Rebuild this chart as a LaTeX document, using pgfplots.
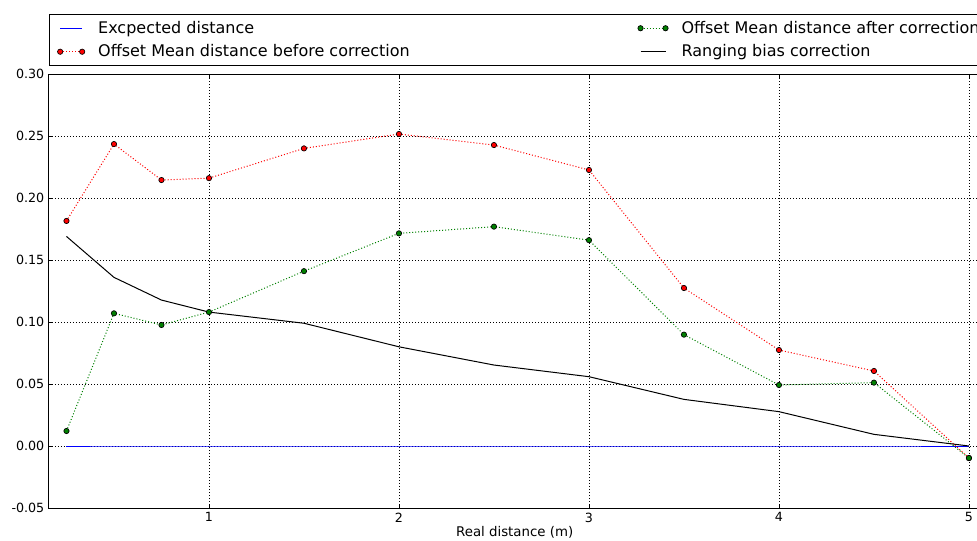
\documentclass[border=0pt]{standalone}
\usepackage{fontspec}
\setmainfont{DejaVu Sans}
\usepackage{pgfplots}
\usepackage{pgfplotstable}
\pgfplotsset{compat=1.18}
\definecolor{mgreen}{rgb}{0,0.5,0}
\pgfplotsset{
 legline/.style 2 args={legend image code/.code={\draw[##1, draw=#2] (0pt,0pt) -- (#1,0pt);}},
 legmark/.style={legend image code/.code={\draw[##1] plot coordinates {(0pt,0pt) (#1,0pt)};}},
}
\pgfplotstableread{
x before after bias zero
0.25 0.1815 0.0121 0.169 0
0.5 0.2435 0.107 0.136 0
0.75 0.2145 0.0976 0.1177 0
1.0 0.216 0.108 0.108 0
1.5 0.240 0.141 0.099 0
2.0 0.2516 0.1715 0.080 0
2.5 0.2427 0.1769 0.0653 0
3.0 0.2226 0.166 0.0559 0
3.5 0.1274 0.0898 0.0376 0
4.0 0.0774 0.0492 0.0277 0
4.5 0.0605 0.0511 0.0094 0
5.0 -0.0097 -0.0097 0.0 0
}\datatable
\begin{document}
\begin{tikzpicture}
\begin{axis}[
 name=ax,
 at={(0,0)}, anchor=south west,
 scale only axis,
 width=698.5pt, height=325.5pt,
 xmin=0.158, xmax=5.06, ymin=-0.05, ymax=0.30,
 xtick={1,2,3,4,5},
 ytick={-0.05,0,0.05,0.1,0.15,0.2,0.25,0.3},
 yticklabel style={/pgf/number format/.cd, fixed, fixed zerofill, precision=2},
 /pgf/number format/assume math mode=true,
 grid=major,
 major grid style={black, line width=0.5pt, dash pattern=on 0.75pt off 1.5pt},
 tick align=inside,
 major tick length=3pt,
 tick style={black, line width=0.6pt},
 axis line style={line width=0.75pt},
 ticklabel style={font=\fontsize{9.5}{11}\selectfont},
 xlabel={Real distance (m)},
 xlabel style={font=\fontsize{10}{12}\selectfont, yshift=4pt},
 legend columns=2, transpose legend,
 legend cell align=left,
 legend style={at={(0,1.0185)}, anchor=south west, font=\fontsize{12}{14}\selectfont,
   line width=0.75pt, inner xsep=6pt, inner ysep=3pt,
   /tikz/every odd column/.append style={column sep=8pt},
   /tikz/every even column/.append style={column sep=169pt},
   row sep=3pt},
]
\addplot[blue, line width=0.75pt, legline={16.5pt}{blue}]
 table[x=x, y=zero] {\datatable};
\addlegendentry{Excpected distance}
\addplot[red, line width=0.75pt, dash pattern=on 0.75pt off 1.5pt, mark=*, mark size=2pt,
 mark options={solid, fill=red, draw=black, line width=0.5pt}, legmark=16.5pt]
 table[x=x, y=before] {\datatable};
\addlegendentry{Offset Mean distance before correction}
\addplot[mgreen, line width=0.75pt, dash pattern=on 0.75pt off 1.5pt, mark=*, mark size=2pt,
 mark options={solid, fill=mgreen, draw=black, line width=0.5pt}, legmark=18.75pt]
 table[x=x, y=after] {\datatable};
\addlegendentry{Offset Mean distance after correction}
\addplot[black, line width=0.75pt, legline={18.75pt}{black}]
 table[x=x, y=bias] {\datatable};
\addlegendentry{Ranging bias correction}
\end{axis}
\pgfresetboundingbox
\path[use as bounding box] (-36.75pt,-24pt) rectangle (696pt,381pt);
\end{tikzpicture}
\end{document}
